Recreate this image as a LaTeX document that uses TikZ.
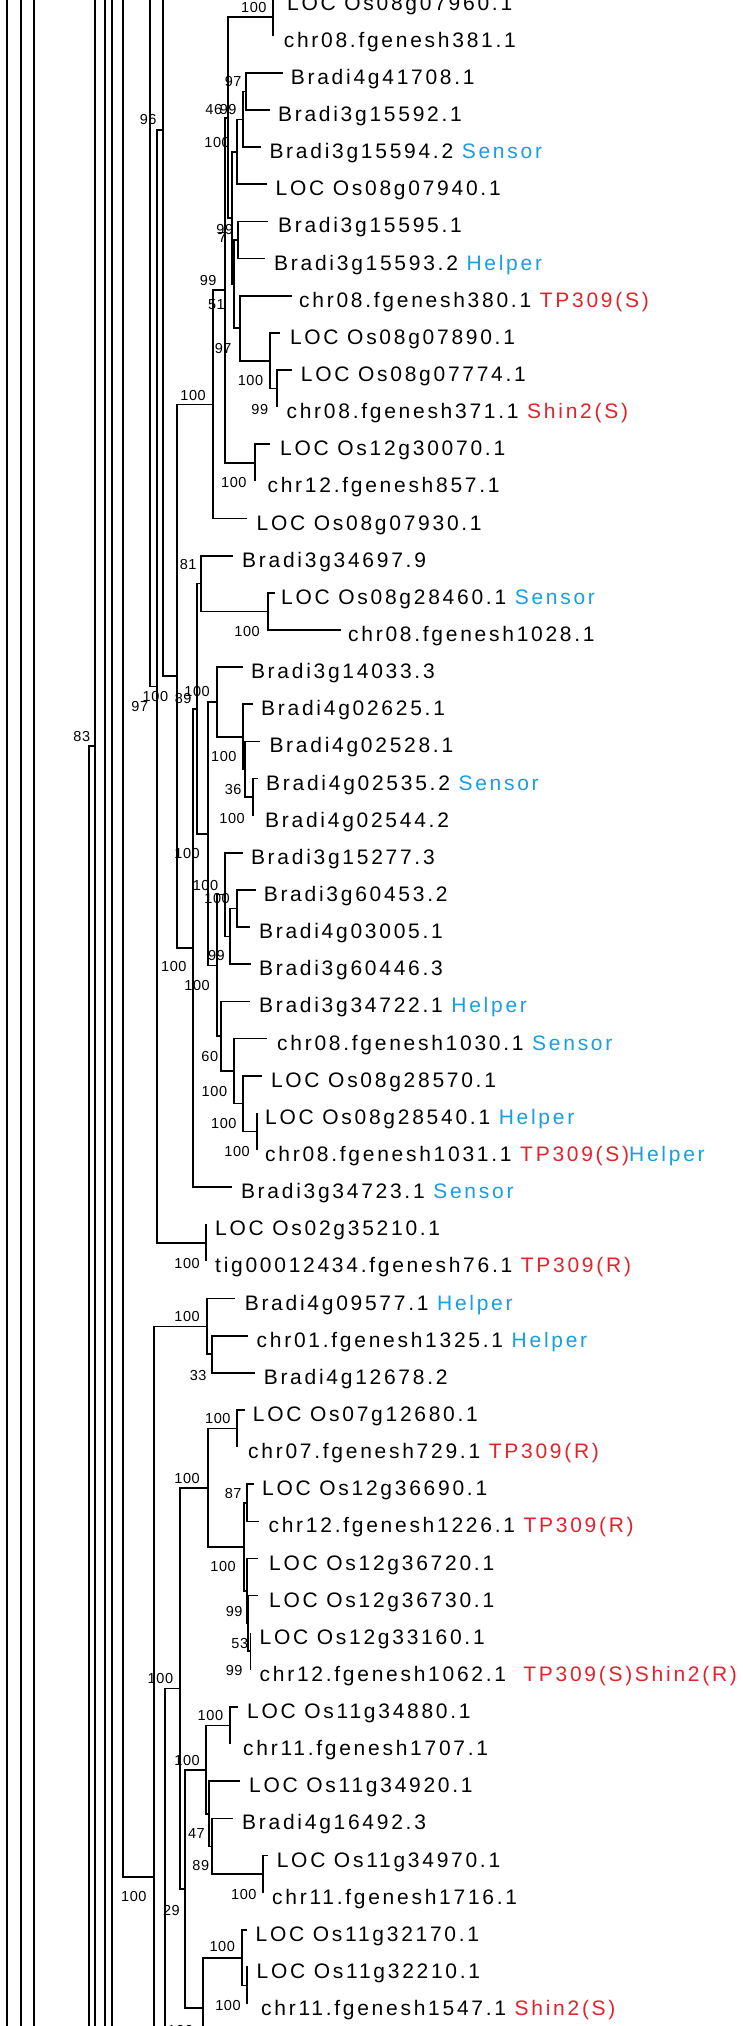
\documentclass[tikz,border=0pt]{standalone}
\usepackage{fontspec}
\setmainfont{Liberation Sans}
\newfontfamily\leaffont[LetterSpace=13]{Liberation Sans}
\newfontfamily\bootfont[LetterSpace=4]{Liberation Sans}
\usepackage{xcolor}
\definecolor{tagblue}{HTML}{1A9EE2}
\definecolor{tagred}{HTML}{E4222C}
\newcommand{\sensortag}{\textcolor{tagblue}{Sensor}}
\newcommand{\helpertag}{\textcolor{tagblue}{Helper}}
\newcommand{\redtag}[1]{\textcolor{tagred}{#1}}

\begin{document}
\begin{tikzpicture}[x=1pt,y=-1pt,
  branch/.style={line width=1.7pt},
  leaf/.style={font={\leaffont\fontsize{21}{24}\selectfont},inner sep=0pt,anchor=base west},
  boot/.style={font={\bootfont\fontsize{14.5}{17}\selectfont},inner sep=0pt,anchor=east}]

\fill[white] (0,0) rectangle (743,2026);
\useasboundingbox (0,0) rectangle (743,2026);

% Rami che attraversano tutta la figura
\foreach \x in {7.3,20.7,34,105,112}
    \draw[branch] (\x,-20) -- (\x,2050);

% Foglie: riga / fine ramo / inizio testo / nome
\foreach \rw/\xe/\xt/\txt in {
  0/273/287/{LOC Os08g07960.1},
  1/273/283.6/{chr08.fgenesh381.1},
  2/283.3/290.7/{Bradi4g41708.1},
  3/270/277.9/{Bradi3g15592.1},
  4/260.7/269.3/{Bradi3g15594.2 \sensortag},
  5/266.7/275.5/{LOC Os08g07940.1},
  6/268.3/277.9/{Bradi3g15595.1},
  7/265/274/{Bradi3g15593.2 \helpertag},
  8/291.7/299/{chr08.fgenesh380.1 \redtag{TP309(S)}},
  9/280/289.8/{LOC Os08g07890.1},
  10/291.7/300.7/{LOC Os08g07774.1},
  11/276.7/286.4/{chr08.fgenesh371.1 \redtag{Shin2(S)}},
  12/270/280/{LOC Os12g30070.1},
  13/255/267.4/{chr12.fgenesh857.1},
  14/246.7/256.5/{LOC Os08g07930.1},
  15/233.3/242/{Bradi3g34697.9},
  16/274.5/281/{LOC Os08g28460.1 \sensortag},
  17/340.6/348/{chr08.fgenesh1028.1},
  18/243/250.8/{Bradi3g14033.3},
  19/253/261/{Bradi4g02625.1},
  20/260/269.3/{Bradi4g02528.1},
  21/258/266/{Bradi4g02535.2 \sensortag},
  22/253.3/265/{Bradi4g02544.2},
  23/243/250.8/{Bradi3g15277.3},
  24/256/263.6/{Bradi3g60453.2},
  25/250/258.9/{Bradi4g03005.1},
  26/250.8/258.9/{Bradi3g60446.3},
  27/250/258.9/{Bradi3g34722.1 \helpertag},
  28/266.7/277/{chr08.fgenesh1030.1 \sensortag},
  29/262/270.8/{LOC Os08g28570.1},
  30/256.7/265/{LOC Os08g28540.1 \helpertag},
  31/256.7/265/{chr08.fgenesh1031.1 \redtag{TP309(S)}\helpertag},
  32/232/240.8/{Bradi3g34723.1 \sensortag},
  33/206/215/{LOC Os02g35210.1},
  34/206/215/{tig00012434.fgenesh76.1 \redtag{TP309(R)}},
  35/235/244.6/{Bradi4g09577.1 \helpertag},
  36/248.3/256.5/{chr01.fgenesh1325.1 \helpertag},
  37/255/263.6/{Bradi4g12678.2},
  38/245/252.7/{LOC Os07g12680.1},
  39/237.3/248/{chr07.fgenesh729.1 \redtag{TP309(R)}},
  40/254/262/{LOC Os12g36690.1},
  41/258.6/268.4/{chr12.fgenesh1226.1 \redtag{TP309(R)}},
  42/258/269/{LOC Os12g36720.1},
  43/258/269/{LOC Os12g36730.1},
  44/250.5/259.5/{LOC Os12g33160.1},
  45/250.5/259.5/{chr12.fgenesh1062.1\ \ \redtag{TP309(S)Shin2(R)}},
  46/238/247/{LOC Os11g34880.1},
  47/230/243/{chr11.fgenesh1707.1},
  48/240/249/{LOC Os11g34920.1},
  49/233.3/242/{Bradi4g16492.3},
  50/268.3/276.6/{LOC Os11g34970.1},
  51/263.3/272/{chr11.fgenesh1716.1},
  52/247.3/255.5/{LOC Os11g32170.1},
  53/248/256.5/{LOC Os11g32210.1},
  54/247/261/{chr11.fgenesh1547.1 \redtag{Shin2(S)}}}
{
    \pgfmathsetmacro\yb{-1.4+37.14*\rw}
    \coordinate (l\rw) at (\xe,\yb);
    \node[leaf] (t\rw) at (\xt,{\yb+11.5}) {\txt};
}

% Nodi interni
\coordinate (n01) at (273,17.2);
\coordinate (a1) at (246,91.5);
\coordinate (a2) at (242.7,119.4);
\coordinate (a3) at (236.7,151.9);
\coordinate (a4) at (238.3,240);
\coordinate (b3) at (276.7,388.5);
\coordinate (b2) at (270,360.8);
\coordinate (b1) at (240,328.3);
\coordinate (h) at (234,284.2);
\coordinate (g) at (231.7,218.1);
\coordinate (f) at (228.3,117.7);
\coordinate (c1) at (255,462.9);
\coordinate (d) at (225,290.3);
\coordinate (e) at (212.7,404.5);
\coordinate (k1) at (268,611.4);
\coordinate (k2) at (201,583.6);
\coordinate (v) at (253.3,797.1);
\coordinate (u) at (245,769.3);
\coordinate (t) at (243.3,736.8);
\coordinate (r) at (216.7,702);
\coordinate (y1) at (237.3,908.6);
\coordinate (y2) at (230,936.4);
\coordinate (w) at (225,894.6);
\coordinate (z5) at (256.7,1131.4);
\coordinate (z4) at (243.3,1103.6);
\coordinate (z3) at (234,1071.1);
\coordinate (z2) at (220.7,1036.3);
\coordinate (z) at (217.3,965.5);
\coordinate (m) at (208.3,833.8);
\coordinate (l) at (196.7,708.7);
\coordinate (p) at (192.7,947.9);
\coordinate (q) at (176.7,676.2);
\coordinate (na) at (162.7,130.1);
\coordinate (nc) at (206,1242.8);
\coordinate (nb) at (157.3,686.5);
\coordinate (ab) at (211.7,1354.2);
\coordinate (aa) at (207.3,1326.4);
\coordinate (bb) at (154.3,1876.7);
\coordinate (dd) at (237.3,1428.5);
\coordinate (ee) at (247,1502.8);
\coordinate (ii) at (250.5,1651.3);
\coordinate (jj) at (248.3,1623.5);
\coordinate (gg) at (246.7,1591);
\coordinate (ff) at (244.3,1546.9);
\coordinate (kk) at (208.3,1487.7);
\coordinate (qq) at (230,1725.6);
\coordinate (tt) at (263.3,1874.2);
\coordinate (ss) at (212,1846.4);
\coordinate (rr) at (209.3,1813.9);
\coordinate (oo) at (206,1769.8);
\coordinate (vv) at (247,1985.6);
\coordinate (uu) at (242.3,1957.8);
\coordinate (pp) at (202.7,2008.3);
\coordinate (mm) at (185,1889);
\coordinate (ll) at (180,1688.4);
\coordinate (n83) at (95,746);

% Nodi fuori dalla figura
\coordinate (xa) at (200,-416);
\coordinate (xc) at (150,-700);
\coordinate (xd) at (123.3,-300);
\coordinate (xb) at (200,2427);
\coordinate (xp) at (240,2059);
\coordinate (xn) at (165,2150);
\coordinate (xt) at (130,-1500);
\coordinate (xu) at (130,3000);
\coordinate (x83) at (89,2600);

% Rami
\foreach \p/\c in {n01/l0,n01/l1,a1/l2,a1/l3,a2/a1,a2/l4,a3/a2,a3/l5,
    a4/l6,a4/l7,b3/l10,b3/l11,b2/l9,b2/b3,b1/l8,b1/b2,h/a4,h/b1,
    g/a3,g/h,f/n01,f/g,c1/l12,c1/l13,d/f,d/c1,e/d,e/l14,
    k1/l16,k1/l17,k2/l15,k2/k1,v/l21,v/l22,u/l20,u/v,t/l19,t/u,r/l18,r/t,
    y1/l24,y1/l25,y2/y1,y2/l26,w/l23,w/y2,z5/l30,z5/l31,z4/l29,z4/z5,
    z3/l28,z3/z4,z2/l27,z2/z3,z/w,z/z2,m/r,m/z,l/k2,l/m,p/l,p/l32,
    q/e,q/p,na/xa,na/q,nc/l33,nc/l34,nb/na,nb/nc,xc/nb,
    ab/l36,ab/l37,aa/l35,aa/ab,bb/aa,bb/xb,xd/bb,
    dd/l38,dd/l39,ee/l40,ee/l41,ii/l44,ii/l45,jj/l43,jj/ii,gg/l42,gg/jj,
    ff/ee,ff/gg,kk/dd,kk/ff,qq/l46,qq/l47,tt/l50,tt/l51,ss/l49,ss/tt,
    rr/l48,rr/ss,oo/qq,oo/rr,vv/l53,vv/l54,uu/l52,uu/vv,pp/uu,pp/xp,
    mm/oo,mm/pp,ll/kk,ll/mm,xn/ll,n83/xt,n83/xu,x83/n83}
    \draw[branch] (\p) |- (\c);

% Valori di bootstrap
\foreach \n/\v/\xl/\yl in {
  n01/100/266.7/8, a1/97/241.7/81.7, a2/99/236.7/110, f/46/222.3/110,
  a3/100/230/142.7, a4/99/233.3/230, g/7/226.7/238, h/51/225/305,
  b1/97/231.7/348.3, d/99/216.7/280.7, b2/100/263.3/381, b3/99/268.3/409.3,
  c1/100/246.7/483, e/100/206/396, na/96/156.7/120, k2/81/196.7/565,
  k1/100/260/631.7, l/89/191.7/698.3, q/100/168.3/697, nb/97/148.3/706.7,
  r/100/210/691.7, t/100/236.7/756.7, u/36/241.7/789.3, v/100/245/818.3,
  n83/83/90.3/736, m/100/200/853.3, w/100/218.3/885.7, y1/100/230/898.3,
  y2/99/225/955, p/100/186.7/966.7, z/100/210/985, z2/60/218.3/1056.7,
  z3/100/227.3/1091.7, z4/100/236.7/1123.3, z5/100/250/1151.7,
  nc/100/200/1263.3, aa/100/200/1316.7, ab/33/206.7/1375, dd/100/230.7/1418.3,
  kk/100/200/1478.3, ee/87/241.7/1493.3, ff/100/236/1566.7, gg/99/242.7/1611.7,
  jj/53/248.3/1643.3, ii/99/242.7/1670, ll/100/173.3/1678.3, qq/100/223.3/1715,
  oo/100/200/1760, rr/47/205/1833.3, ss/89/209.3/1865.7, tt/100/256.7/1894,
  bb/100/146.7/1896.7, mm/29/180/1910, uu/100/235.1/1946.7, vv/100/240.8/2005.7,
  pp/100/193.3/2030}
    \node[boot] (bs\n) at (\xl,\yl) {\v};

\end{tikzpicture}
\end{document}
